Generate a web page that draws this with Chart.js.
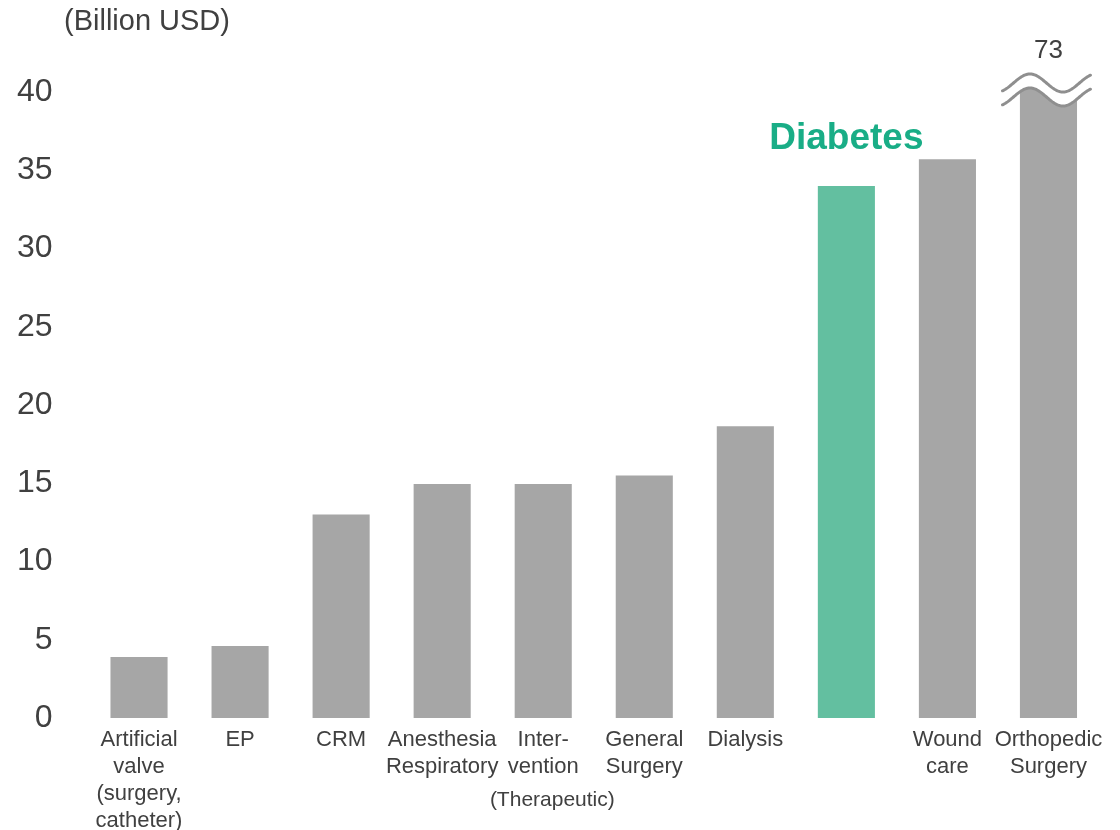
<!DOCTYPE html>
<html>
<head>
<meta charset="utf-8">
<script src="https://cdn.jsdelivr.net/npm/chart.js@4/dist/chart.umd.min.js"></script>
<style>
  html, body { margin: 0; padding: 0; background: #ffffff; }
  #wrap { width: 1120px; height: 830px; }
</style>
</head>
<body>
<div id="wrap"><canvas id="c" width="1120" height="830"></canvas></div>
<script>
// ---- data ----
const categories = ["Artificial valve", "EP", "CRM", "Anesthesia Respiratory", "Intervention", "General Surgery", "Dialysis", "Diabetes", "Wound care", "Orthopedic Surgery"];
const tickLines = [
  ["Artificial", "valve", "(surgery,", "catheter)"],
  ["EP"],
  ["CRM"],
  ["Anesthesia", "Respiratory"],
  ["Inter-", "vention"],
  ["General", "Surgery"],
  ["Dialysis"],
  [""],
  ["Wound", "care"],
  ["Orthopedic", "Surgery"]
];
const marketSize = [3.9, 4.6, 13.0, 14.95, 14.95, 15.5, 18.65, 34.0, 35.7, 73];
const highlight = "Diabetes";
const brokenCategory = "Orthopedic Surgery";
const axisMax = 40;
const yTickStep = 5;
const unitLabel = "(Billion USD)";
const groupNote = "(Therapeutic)";

const FONT = "'Liberation Sans', Arial, Helvetica, sans-serif";
const GRAY = "#a6a6a6";
const GREEN = "#63bfa0";
const GREEN_TEXT = "#19ad86";
const TEXT = "#404040";

const barColors = categories.map(c => c === highlight ? GREEN : GRAY);

const annotations = {
  id: "annotations",
  afterDatasetsDraw(chart) {
    const ctx = chart.ctx;
    const meta = chart.getDatasetMeta(0);
    const y = chart.scales.y, x = chart.scales.x;
    const top = y.getPixelForValue(axisMax);

    // axis break on the out-of-range bar
    const bi = categories.indexOf(brokenCategory);
    const bar = meta.data[bi];
    const cx = bar.x;
    const x0 = cx - 46, x1 = cx + 42;
    const P = 66, A = 9, xp = cx - 18.5, mid = top - 9, gap = 14;
    const wave = (xx, off) => mid + off - A * Math.cos(2 * Math.PI * (xx - xp) / P);
    ctx.save();
    ctx.fillStyle = "#ffffff";
    ctx.beginPath();
    ctx.moveTo(x0 - 4, top - 60);
    ctx.lineTo(x1 + 4, top - 60);
    for (let xx = x1 + 4; xx >= x0 - 4; xx -= 1) ctx.lineTo(xx, wave(xx, gap));
    ctx.closePath();
    ctx.fill();
    ctx.strokeStyle = "#8f8f8f";
    ctx.lineWidth = 3;
    ctx.lineCap = "round";
    [0, gap].forEach(off => {
      ctx.beginPath();
      for (let xx = x0; xx <= x1; xx += 1) {
        const yy = wave(xx, off);
        if (xx === x0) ctx.moveTo(xx, yy); else ctx.lineTo(xx, yy);
      }
      ctx.stroke();
    });
    // real value above the break
    ctx.fillStyle = TEXT;
    ctx.font = "26px " + FONT;
    ctx.textAlign = "center";
    ctx.textBaseline = "middle";
    ctx.fillText(String(marketSize[bi]), cx, top - 41);

    // highlighted category name above its bar
    const hi = categories.indexOf(highlight);
    const hb = meta.data[hi];
    ctx.fillStyle = GREEN_TEXT;
    ctx.font = "bold 37px " + FONT;
    ctx.fillText(highlight, hb.x, hb.y - 47);

    // unit label
    ctx.fillStyle = TEXT;
    ctx.font = "29px " + FONT;
    ctx.textAlign = "left";
    ctx.fillText(unitLabel, 64, 22);

    // group note under the x labels
    ctx.font = "21px " + FONT;
    ctx.textAlign = "center";
    ctx.fillText(groupNote, x.getPixelForValue(4.09), chart.chartArea.bottom + 82);
    ctx.restore();
  }
};

new Chart(document.getElementById("c"), {
  type: "bar",
  data: {
    labels: categories,
    datasets: [{
      data: marketSize,
      backgroundColor: barColors,
      borderWidth: 0,
      categoryPercentage: 1.0,
      barPercentage: 0.565,
      clip: { left: 0, top: 30, right: 0, bottom: 0 }
    }]
  },
  options: {
    responsive: false,
    animation: false,
    layout: { padding: { top: 92, left: 0, right: 21, bottom: 0 } },
    plugins: { legend: { display: false }, tooltip: { enabled: false } },
    scales: {
      x: {
        grid: { display: false, drawTicks: false },
        border: { display: false },
        ticks: {
          color: TEXT,
          font: { family: FONT, size: 22, lineHeight: 1.23 },
          padding: 8,
          maxRotation: 0,
          autoSkip: false,
          callback: (v, i) => tickLines[i]
        },
        afterFit(s) { s.height = 112; }
      },
      y: {
        min: 0,
        max: axisMax,
        grid: { display: false, drawTicks: false },
        border: { display: false },
        ticks: {
          stepSize: yTickStep,
          color: TEXT,
          font: { family: FONT, size: 32 },
          padding: 36
        },
        afterFit(s) { s.width = 88.5; }
      }
    }
  },
  plugins: [annotations]
});
</script>
</body>
</html>
